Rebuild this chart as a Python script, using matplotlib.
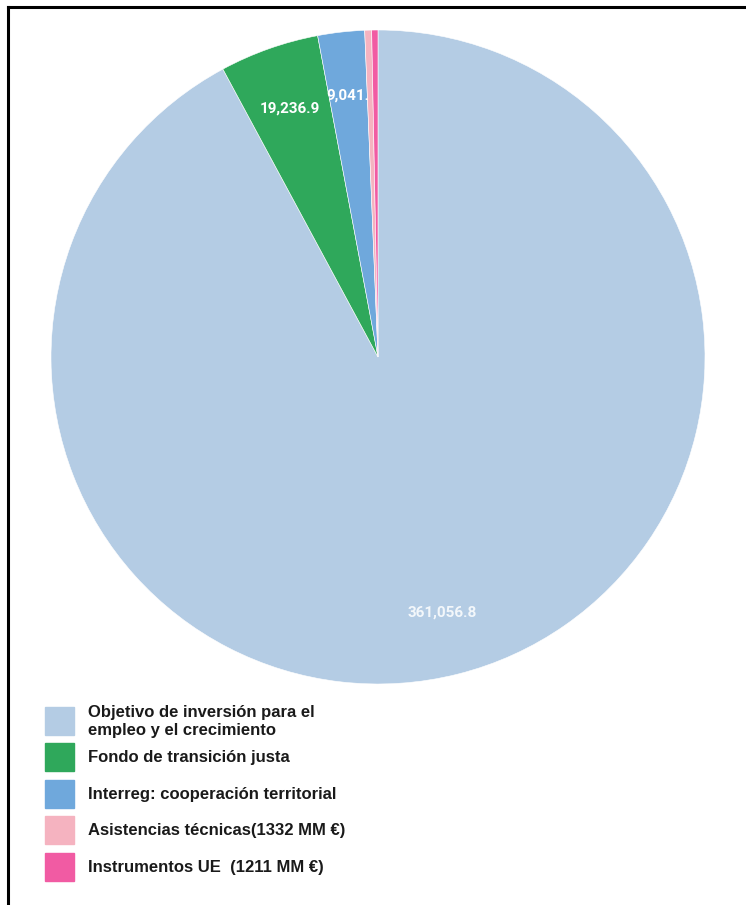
import matplotlib.pyplot as plt
from matplotlib.patches import Rectangle
from matplotlib.lines import Line2D
import numpy as np

plt.rcParams['font.family'] = ['Liberation Sans', 'DejaVu Sans']

# datos (millones de euros)
categorias = ['Objetivo de inversión para el\nempleo y el crecimiento',
              'Fondo de transición justa',
              'Interreg: cooperación territorial',
              'Asistencias técnicas(1332 MM €)',
              'Instrumentos UE  (1211 MM €)']
valores = [361056.8, 19236.9, 9041.0, 1332.0, 1211.0]
etiquetas = ['361,056.8', '19,236.9', '9,041.', '', '']
colores = ['#b4cce4', '#2fa85b', '#6fa8dc', '#f5b3c0', '#f15ba3']

W, H = 746, 905
fig = plt.figure(figsize=(W/100, H/100), dpi=100)

# eje del pastel: centro (378, 357) px, radio 327 px
cx, cy, r = 378, 357, 327
ax = fig.add_axes([(cx - r)/W, 1 - (cy + r)/H, 2*r/W, 2*r/H])
wedges, _ = ax.pie(valores, colors=colores, startangle=90, counterclock=False,
                   wedgeprops=dict(linewidth=0.4, edgecolor='white'))
ax.set_xlim(-1, 1)
ax.set_ylim(-1, 1)
ax.set_aspect('equal')

# etiquetas de valor dentro de las porciones
for i, (w, txt) in enumerate(zip(wedges, etiquetas)):
    if not txt:
        continue
    ang = np.deg2rad((w.theta1 + w.theta2) / 2)
    ax.text(0.805*np.cos(ang), 0.805*np.sin(ang), txt,
            color='white', alpha=0.85 if i == 0 else 1.0,
            fontsize=11, fontweight='bold', ha='center', va='center',
            family=['Roboto', 'DejaVu Sans'])

# leyenda manual
y_centros = [721, 757, 794, 830, 867]
for y, lab, col in zip(y_centros, categorias, colores):
    fig.patches.append(Rectangle((45/W, 1 - (y + 14)/H), 29/W, 28/H,
                                 transform=fig.transFigure, color=col))
    fig.text(88/W, 1 - y/H, lab, fontsize=12, fontweight='bold',
             va='center', ha='left', color='#1a1a1a', linespacing=1.25)

# marco negro (arriba e izquierda)
fig.lines.append(Line2D([8/W, 1], [1 - 7.5/H, 1 - 7.5/H], color='black',
                        lw=2.2, transform=fig.transFigure))
fig.lines.append(Line2D([8/W, 8/W], [0, 1 - 7.5/H], color='black',
                        lw=2.2, transform=fig.transFigure))

plt.savefig('out.png', dpi=100)
